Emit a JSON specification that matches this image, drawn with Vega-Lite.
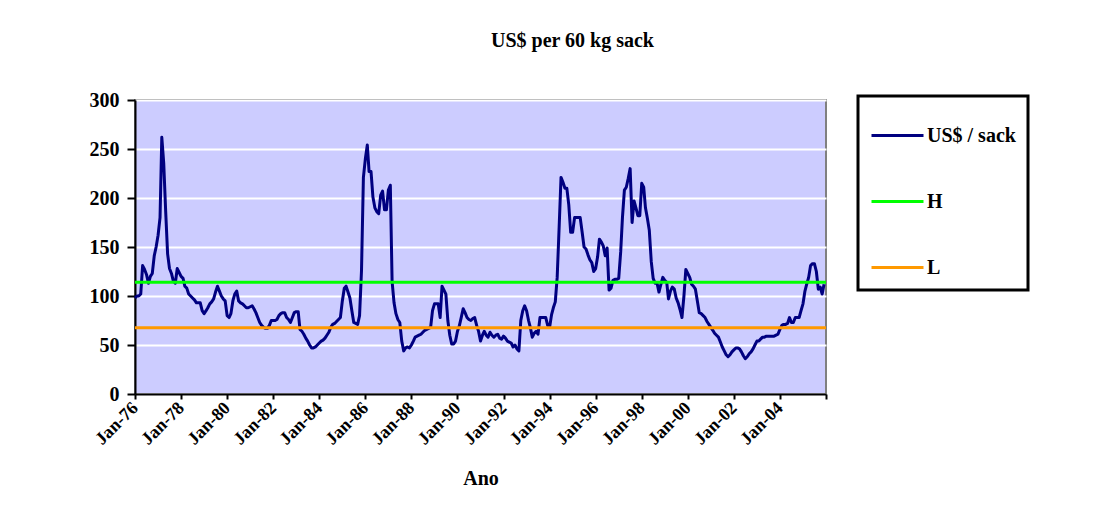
{
  "$schema": "https://vega.github.io/schema/vega-lite/v6.json",
  "width": 691,
  "height": 294,
  "autosize": {"type": "none"},
  "padding": {"left": 135, "top": 100, "right": 269, "bottom": 135},
  "background": "white",
  "title": {"text": "US$ per 60 kg sack", "anchor": "middle", "dx": 92, "offset": 39, "font": "Liberation Serif", "fontSize": 20, "fontWeight": "bold", "color": "black"},
  "datasets": {
    "price": [
      {"d":"1976-01-01","v":98},{"d":"1976-02-01","v":100},{"d":"1976-03-01","v":100},{"d":"1976-04-01","v":102},{"d":"1976-05-01","v":131},{"d":"1976-06-01","v":127},{"d":"1976-07-01","v":122},{"d":"1976-08-01","v":113},{"d":"1976-09-01","v":120},{"d":"1976-10-01","v":123},{"d":"1976-11-01","v":141},{"d":"1976-12-01","v":150},
      {"d":"1977-01-01","v":162},{"d":"1977-02-01","v":180},{"d":"1977-03-01","v":262},{"d":"1977-04-01","v":235},{"d":"1977-05-01","v":187},{"d":"1977-06-01","v":143},{"d":"1977-07-01","v":128},{"d":"1977-08-01","v":123},{"d":"1977-09-01","v":115},{"d":"1977-10-01","v":113},{"d":"1977-11-01","v":128},{"d":"1977-12-01","v":124},
      {"d":"1978-01-01","v":120},{"d":"1978-02-01","v":118},{"d":"1978-03-01","v":110},{"d":"1978-04-01","v":108},{"d":"1978-05-01","v":102},{"d":"1978-06-01","v":100},{"d":"1978-07-01","v":98},{"d":"1978-08-01","v":96},{"d":"1978-09-01","v":93},{"d":"1978-10-01","v":93},{"d":"1978-11-01","v":93},{"d":"1978-12-01","v":85},
      {"d":"1979-01-01","v":82},{"d":"1979-02-01","v":85},{"d":"1979-03-01","v":88},{"d":"1979-04-01","v":92},{"d":"1979-05-01","v":94},{"d":"1979-06-01","v":97},{"d":"1979-07-01","v":104},{"d":"1979-08-01","v":110},{"d":"1979-09-01","v":105},{"d":"1979-10-01","v":100},{"d":"1979-11-01","v":97},{"d":"1979-12-01","v":95},
      {"d":"1980-01-01","v":80},{"d":"1980-02-01","v":78},{"d":"1980-03-01","v":82},{"d":"1980-04-01","v":95},{"d":"1980-05-01","v":102},{"d":"1980-06-01","v":105},{"d":"1980-07-01","v":95},{"d":"1980-08-01","v":93},{"d":"1980-09-01","v":92},{"d":"1980-10-01","v":90},{"d":"1980-11-01","v":88},{"d":"1980-12-01","v":88},
      {"d":"1981-01-01","v":89},{"d":"1981-02-01","v":90},{"d":"1981-03-01","v":87},{"d":"1981-04-01","v":83},{"d":"1981-05-01","v":78},{"d":"1981-06-01","v":73},{"d":"1981-07-01","v":70},{"d":"1981-08-01","v":68},{"d":"1981-09-01","v":67},{"d":"1981-10-01","v":67},{"d":"1981-11-01","v":70},{"d":"1981-12-01","v":75},
      {"d":"1982-01-01","v":75},{"d":"1982-02-01","v":75},{"d":"1982-03-01","v":76},{"d":"1982-04-01","v":80},{"d":"1982-05-01","v":82},{"d":"1982-06-01","v":83},{"d":"1982-07-01","v":83},{"d":"1982-08-01","v":78},{"d":"1982-09-01","v":76},{"d":"1982-10-01","v":73},{"d":"1982-11-01","v":78},{"d":"1982-12-01","v":83},
      {"d":"1983-01-01","v":84},{"d":"1983-02-01","v":84},{"d":"1983-03-01","v":66},{"d":"1983-04-01","v":64},{"d":"1983-05-01","v":61},{"d":"1983-06-01","v":57},{"d":"1983-07-01","v":54},{"d":"1983-08-01","v":50},{"d":"1983-09-01","v":47},{"d":"1983-10-01","v":47},{"d":"1983-11-01","v":48},{"d":"1983-12-01","v":50},
      {"d":"1984-01-01","v":52},{"d":"1984-02-01","v":54},{"d":"1984-03-01","v":55},{"d":"1984-04-01","v":57},{"d":"1984-05-01","v":60},{"d":"1984-06-01","v":63},{"d":"1984-07-01","v":68},{"d":"1984-08-01","v":71},{"d":"1984-09-01","v":72},{"d":"1984-10-01","v":74},{"d":"1984-11-01","v":76},{"d":"1984-12-01","v":78},
      {"d":"1985-01-01","v":95},{"d":"1985-02-01","v":108},{"d":"1985-03-01","v":110},{"d":"1985-04-01","v":104},{"d":"1985-05-01","v":98},{"d":"1985-06-01","v":85},{"d":"1985-07-01","v":73},{"d":"1985-08-01","v":72},{"d":"1985-09-01","v":71},{"d":"1985-10-01","v":80},{"d":"1985-11-01","v":126},{"d":"1985-12-01","v":221},
      {"d":"1986-01-01","v":240},{"d":"1986-02-01","v":254},{"d":"1986-03-01","v":227},{"d":"1986-04-01","v":227},{"d":"1986-05-01","v":201},{"d":"1986-06-01","v":190},{"d":"1986-07-01","v":186},{"d":"1986-08-01","v":184},{"d":"1986-09-01","v":203},{"d":"1986-10-01","v":207},{"d":"1986-11-01","v":188},{"d":"1986-12-01","v":188},
      {"d":"1987-01-01","v":208},{"d":"1987-02-01","v":213},{"d":"1987-03-01","v":115},{"d":"1987-04-01","v":93},{"d":"1987-05-01","v":82},{"d":"1987-06-01","v":76},{"d":"1987-07-01","v":73},{"d":"1987-08-01","v":54},{"d":"1987-09-01","v":44},{"d":"1987-10-01","v":47},{"d":"1987-11-01","v":48},{"d":"1987-12-01","v":47},
      {"d":"1988-01-01","v":50},{"d":"1988-02-01","v":54},{"d":"1988-03-01","v":58},{"d":"1988-04-01","v":59},{"d":"1988-05-01","v":60},{"d":"1988-06-01","v":61},{"d":"1988-07-01","v":63},{"d":"1988-08-01","v":65},{"d":"1988-09-01","v":66},{"d":"1988-10-01","v":67},{"d":"1988-11-01","v":68},{"d":"1988-12-01","v":85},
      {"d":"1989-01-01","v":92},{"d":"1989-02-01","v":92},{"d":"1989-03-01","v":92},{"d":"1989-04-01","v":78},{"d":"1989-05-01","v":110},{"d":"1989-06-01","v":106},{"d":"1989-07-01","v":102},{"d":"1989-08-01","v":75},{"d":"1989-09-01","v":60},{"d":"1989-10-01","v":51},{"d":"1989-11-01","v":51},{"d":"1989-12-01","v":54},
      {"d":"1990-01-01","v":64},{"d":"1990-02-01","v":70},{"d":"1990-03-01","v":78},{"d":"1990-04-01","v":87},{"d":"1990-05-01","v":83},{"d":"1990-06-01","v":78},{"d":"1990-07-01","v":76},{"d":"1990-08-01","v":75},{"d":"1990-09-01","v":77},{"d":"1990-10-01","v":78},{"d":"1990-11-01","v":70},{"d":"1990-12-01","v":64},
      {"d":"1991-01-01","v":54},{"d":"1991-02-01","v":60},{"d":"1991-03-01","v":64},{"d":"1991-04-01","v":60},{"d":"1991-05-01","v":58},{"d":"1991-06-01","v":63},{"d":"1991-07-01","v":60},{"d":"1991-08-01","v":58},{"d":"1991-09-01","v":60},{"d":"1991-10-01","v":61},{"d":"1991-11-01","v":57},{"d":"1991-12-01","v":56},
      {"d":"1992-01-01","v":59},{"d":"1992-02-01","v":57},{"d":"1992-03-01","v":54},{"d":"1992-04-01","v":53},{"d":"1992-05-01","v":52},{"d":"1992-06-01","v":48},{"d":"1992-07-01","v":50},{"d":"1992-08-01","v":46},{"d":"1992-09-01","v":44},{"d":"1992-10-01","v":75},{"d":"1992-11-01","v":85},{"d":"1992-12-01","v":90},
      {"d":"1993-01-01","v":85},{"d":"1993-02-01","v":75},{"d":"1993-03-01","v":68},{"d":"1993-04-01","v":58},{"d":"1993-05-01","v":62},{"d":"1993-06-01","v":64},{"d":"1993-07-01","v":61},{"d":"1993-08-01","v":78},{"d":"1993-09-01","v":78},{"d":"1993-10-01","v":78},{"d":"1993-11-01","v":78},{"d":"1993-12-01","v":70},
      {"d":"1994-01-01","v":68},{"d":"1994-02-01","v":81},{"d":"1994-03-01","v":88},{"d":"1994-04-01","v":94},{"d":"1994-05-01","v":119},{"d":"1994-06-01","v":170},{"d":"1994-07-01","v":221},{"d":"1994-08-01","v":216},{"d":"1994-09-01","v":210},{"d":"1994-10-01","v":210},{"d":"1994-11-01","v":193},{"d":"1994-12-01","v":165},
      {"d":"1995-01-01","v":165},{"d":"1995-02-01","v":180},{"d":"1995-03-01","v":180},{"d":"1995-04-01","v":180},{"d":"1995-05-01","v":180},{"d":"1995-06-01","v":165},{"d":"1995-07-01","v":150},{"d":"1995-08-01","v":148},{"d":"1995-09-01","v":142},{"d":"1995-10-01","v":137},{"d":"1995-11-01","v":134},{"d":"1995-12-01","v":125},
      {"d":"1996-01-01","v":128},{"d":"1996-02-01","v":140},{"d":"1996-03-01","v":158},{"d":"1996-04-01","v":155},{"d":"1996-05-01","v":151},{"d":"1996-06-01","v":141},{"d":"1996-07-01","v":149},{"d":"1996-08-01","v":106},{"d":"1996-09-01","v":108},{"d":"1996-10-01","v":116},{"d":"1996-11-01","v":117},{"d":"1996-12-01","v":117},
      {"d":"1997-01-01","v":118},{"d":"1997-02-01","v":145},{"d":"1997-03-01","v":180},{"d":"1997-04-01","v":208},{"d":"1997-05-01","v":211},{"d":"1997-06-01","v":220},{"d":"1997-07-01","v":230},{"d":"1997-08-01","v":175},{"d":"1997-09-01","v":197},{"d":"1997-10-01","v":190},{"d":"1997-11-01","v":182},{"d":"1997-12-01","v":182},
      {"d":"1998-01-01","v":215},{"d":"1998-02-01","v":211},{"d":"1998-03-01","v":190},{"d":"1998-04-01","v":179},{"d":"1998-05-01","v":167},{"d":"1998-06-01","v":135},{"d":"1998-07-01","v":118},{"d":"1998-08-01","v":113},{"d":"1998-09-01","v":113},{"d":"1998-10-01","v":104},{"d":"1998-11-01","v":112},{"d":"1998-12-01","v":119},
      {"d":"1999-01-01","v":116},{"d":"1999-02-01","v":114},{"d":"1999-03-01","v":97},{"d":"1999-04-01","v":105},{"d":"1999-05-01","v":109},{"d":"1999-06-01","v":107},{"d":"1999-07-01","v":98},{"d":"1999-08-01","v":93},{"d":"1999-09-01","v":86},{"d":"1999-10-01","v":78},{"d":"1999-11-01","v":100},{"d":"1999-12-01","v":127},
      {"d":"2000-01-01","v":123},{"d":"2000-02-01","v":119},{"d":"2000-03-01","v":112},{"d":"2000-04-01","v":110},{"d":"2000-05-01","v":107},{"d":"2000-06-01","v":95},{"d":"2000-07-01","v":83},{"d":"2000-08-01","v":82},{"d":"2000-09-01","v":80},{"d":"2000-10-01","v":78},{"d":"2000-11-01","v":74},{"d":"2000-12-01","v":71},
      {"d":"2001-01-01","v":68},{"d":"2001-02-01","v":65},{"d":"2001-03-01","v":62},{"d":"2001-04-01","v":60},{"d":"2001-05-01","v":58},{"d":"2001-06-01","v":53},{"d":"2001-07-01","v":48},{"d":"2001-08-01","v":44},{"d":"2001-09-01","v":40},{"d":"2001-10-01","v":38},{"d":"2001-11-01","v":40},{"d":"2001-12-01","v":43},
      {"d":"2002-01-01","v":45},{"d":"2002-02-01","v":47},{"d":"2002-03-01","v":47},{"d":"2002-04-01","v":46},{"d":"2002-05-01","v":43},{"d":"2002-06-01","v":39},{"d":"2002-07-01","v":36},{"d":"2002-08-01","v":38},{"d":"2002-09-01","v":41},{"d":"2002-10-01","v":43},{"d":"2002-11-01","v":46},{"d":"2002-12-01","v":50},
      {"d":"2003-01-01","v":54},{"d":"2003-02-01","v":54},{"d":"2003-03-01","v":56},{"d":"2003-04-01","v":58},{"d":"2003-05-01","v":58},{"d":"2003-06-01","v":59},{"d":"2003-07-01","v":59},{"d":"2003-08-01","v":59},{"d":"2003-09-01","v":59},{"d":"2003-10-01","v":59},{"d":"2003-11-01","v":60},{"d":"2003-12-01","v":61},
      {"d":"2004-01-01","v":66},{"d":"2004-02-01","v":70},{"d":"2004-03-01","v":71},{"d":"2004-04-01","v":71},{"d":"2004-05-01","v":72},{"d":"2004-06-01","v":78},{"d":"2004-07-01","v":73},{"d":"2004-08-01","v":73},{"d":"2004-09-01","v":78},{"d":"2004-10-01","v":78},{"d":"2004-11-01","v":78},{"d":"2004-12-01","v":85},
      {"d":"2005-01-01","v":92},{"d":"2005-02-01","v":105},{"d":"2005-03-01","v":112},{"d":"2005-04-01","v":119},{"d":"2005-05-01","v":131},{"d":"2005-06-01","v":133},{"d":"2005-07-01","v":133},{"d":"2005-08-01","v":125},{"d":"2005-09-01","v":107},{"d":"2005-10-01","v":109},{"d":"2005-11-01","v":102},{"d":"2005-12-01","v":112}
    ],
    "bands": [
      {"s": "H", "v": 114},
      {"s": "L", "v": 67.7}
    ]
  },
  "layer": [
    {
      "data": {"name": "price"},
      "mark": {"type": "line", "strokeWidth": 3, "strokeJoin": "round"},
      "encoding": {
        "x": {
          "field": "d",
          "type": "temporal",
          "scale": {"type": "utc", "domain": [{"year": 1976, "month": 1, "date": 1, "utc": true}, {"year": 2006, "month": 1, "date": 1, "utc": true}]},
          "axis": {
            "title": "Ano",
            "grid": false,
            "tickCount": {"interval": "year", "step": 2},
            "labelExpr": "utcyear(datum.value) < 2006 ? utcFormat(datum.value, '%b-%y') : ''",
            "labelAngle": -45,
            "labelAlign": "right",
            "labelBaseline": "middle",
            "labelPadding": 6,
            "labelFontSize": 18,
            "labelOverlap": false,
            "labelFlush": false,
            "tickSize": 5,
            "titlePadding": 20
          }
        },
        "y": {
          "field": "v",
          "type": "quantitative",
          "scale": {"domain": [0, 300], "nice": false},
          "axis": {
            "title": null,
            "values": [0, 50, 100, 150, 200, 250, 300],
            "grid": true,
            "gridColor": "white",
            "gridWidth": 2,
            "gridOpacity": 1,
            "tickSize": 8,
            "labelPadding": 8,
            "labelFontSize": 20
          }
        },
        "color": {
          "datum": "US$ / sack",
          "type": "nominal",
          "scale": {"domain": ["US$ / sack", "H", "L"], "range": ["#000080", "#00FF00", "#FF9900"]},
          "legend": {
            "orient": "none",
            "legendX": 723,
            "legendY": -4,
            "title": null,
            "strokeColor": "black",
            "fillColor": "white",
            "padding": 12,
            "symbolType": "stroke",
            "symbolSize": 2704,
            "symbolStrokeWidth": 3,
            "labelFont": "Liberation Serif",
            "labelFontWeight": "bold",
            "labelFontSize": 20,
            "labelColor": "black",
            "labelOffset": 2,
            "rowPadding": 28,
            "encode": {"legend": {"update": {"strokeWidth": {"value": 3}}}}
          }
        }
      }
    },
    {
      "data": {"name": "bands"},
      "mark": {"type": "rule", "strokeWidth": 3},
      "encoding": {
        "y": {"field": "v", "type": "quantitative"},
        "color": {"field": "s", "type": "nominal", "title": null}
      }
    }
  ],
  "config": {
    "view": {"fill": "#CCCCFF", "stroke": "#808080", "strokeWidth": 2},
    "axis": {
      "labelFont": "Liberation Serif",
      "labelFontWeight": "bold",
      "labelFontSize": 18,
      "labelColor": "black",
      "titleFont": "Liberation Serif",
      "titleFontWeight": "bold",
      "titleFontSize": 20,
      "titleColor": "black",
      "domainColor": "black",
      "domainWidth": 2,
      "tickColor": "black",
      "tickWidth": 2
    }
  }
}
